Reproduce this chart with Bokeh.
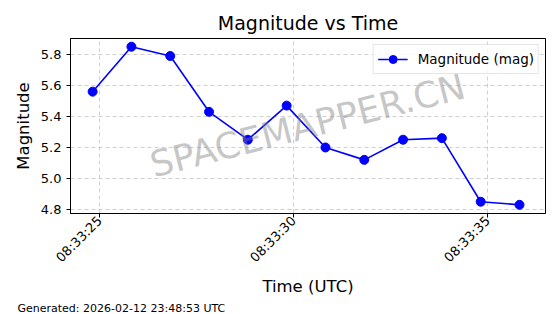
from datetime import datetime, timedelta
import math
from bokeh.plotting import figure
from bokeh.models import FixedTicker, DatetimeTickFormatter, Label, Range1d, NumeralTickFormatter, Title
from bokeh.embed import file_html
from bokeh.resources import INLINE

base = datetime(2026, 2, 12, 8, 33, 24, 820000)
seconds_offset = [0, 1, 2, 3, 4, 5, 6, 7, 8, 9, 10, 11]
magnitudes = [5.56, 5.85, 5.79, 5.43, 5.25, 5.47, 5.20, 5.12, 5.25, 5.26, 4.85, 4.83]
tick_times = ["2026-02-12 08:33:25", "2026-02-12 08:33:30", "2026-02-12 08:33:35"]
y_ticks = [4.8, 5.0, 5.2, 5.4, 5.6, 5.8]

times = [base + timedelta(seconds=s) for s in seconds_offset]
epoch = datetime(1970, 1, 1)
def ms(t):
    return (t - epoch).total_seconds() * 1000.0
tick_ms = [ms(datetime.strptime(t, "%Y-%m-%d %H:%M:%S")) for t in tick_times]

x0 = ms(datetime(2026, 2, 12, 8, 33, 24, 250000))
x1 = ms(datetime(2026, 2, 12, 8, 33, 36, 490000))

p = figure(width=560, height=314, x_axis_type="datetime", output_backend="svg",
           toolbar_location=None, x_range=Range1d(x0, x1), y_range=Range1d(4.774, 5.903),
           min_border_left=70, min_border_right=15, min_border_top=38, min_border_bottom=0)
p.title.text = "Magnitude vs Time"
p.title.align = "center"
p.title.text_font = "DejaVu Sans"
p.title.text_font_size = "19px"
p.title.text_font_style = "normal"
p.title.text_color = "black"

p.line(times, magnitudes, line_color="blue", line_width=1.6, legend_label="Magnitude (mag)")
p.scatter(times, magnitudes, size=9, fill_color="blue", line_color="blue", legend_label="Magnitude (mag)")

p.xaxis.ticker = FixedTicker(ticks=tick_ms)
p.xaxis.formatter = DatetimeTickFormatter(seconds="%H:%M:%S", milliseconds="%H:%M:%S",
                                          minsec="%H:%M:%S", minutes="%H:%M:%S")
p.xaxis.major_label_orientation = math.pi / 4
p.yaxis.ticker = FixedTicker(ticks=y_ticks)
p.yaxis.formatter = NumeralTickFormatter(format="0.0")
p.xaxis.axis_label = "Time (UTC)"
p.yaxis.axis_label = "Magnitude"
for ax in (p.xaxis, p.yaxis):
    ax.axis_label_text_font = "DejaVu Sans"
    ax.axis_label_text_font_size = "16.5px"
    ax.axis_label_text_font_style = "normal"
    ax.axis_label_text_color = "black"
    ax.major_label_text_font = "DejaVu Sans"
    ax.major_label_text_font_size = "13px"
    ax.major_label_text_color = "black"
    ax.minor_tick_line_color = None
    ax.major_tick_in = 0
    ax.major_tick_out = 4
    ax.axis_line_color = "black"
    ax.major_tick_line_color = "black"
p.xaxis.axis_label_standoff = 4
p.xaxis.major_label_standoff = 1

p.outline_line_color = "black"
p.outline_line_alpha = 1
p.grid.grid_line_color = "#b0b0b0"
p.grid.grid_line_dash = "4 3"
p.grid.grid_line_alpha = 0.6

p.legend.location = "top_right"
p.legend.label_text_font = "DejaVu Sans"
p.legend.label_text_font_size = "13.5px"
p.legend.label_text_color = "black"
p.legend.border_line_color = "#cccccc"
p.legend.background_fill_alpha = 0.8
p.legend.margin = 6
p.legend.padding = 4
p.legend.glyph_width = 30
p.legend.label_standoff = 10

wm = Label(x=ms(datetime(2026, 2, 12, 8, 33, 30, 360000)), y=5.342, text="SPACEMAPPER.CN",
           angle=0.25, text_align="center", text_baseline="middle",
           text_font="DejaVu Sans", text_font_size="36px", text_color="gray", text_alpha=0.45)
p.add_layout(wm)

foot = Title(text="Generated: 2026-02-12 23:48:53 UTC", align="left", offset=-53, standoff=0,
             text_font="DejaVu Sans", text_font_size="11px", text_font_style="normal",
             text_color="black")
p.add_layout(foot, "below")

open("out.html", "w").write(file_html(p, INLINE))
